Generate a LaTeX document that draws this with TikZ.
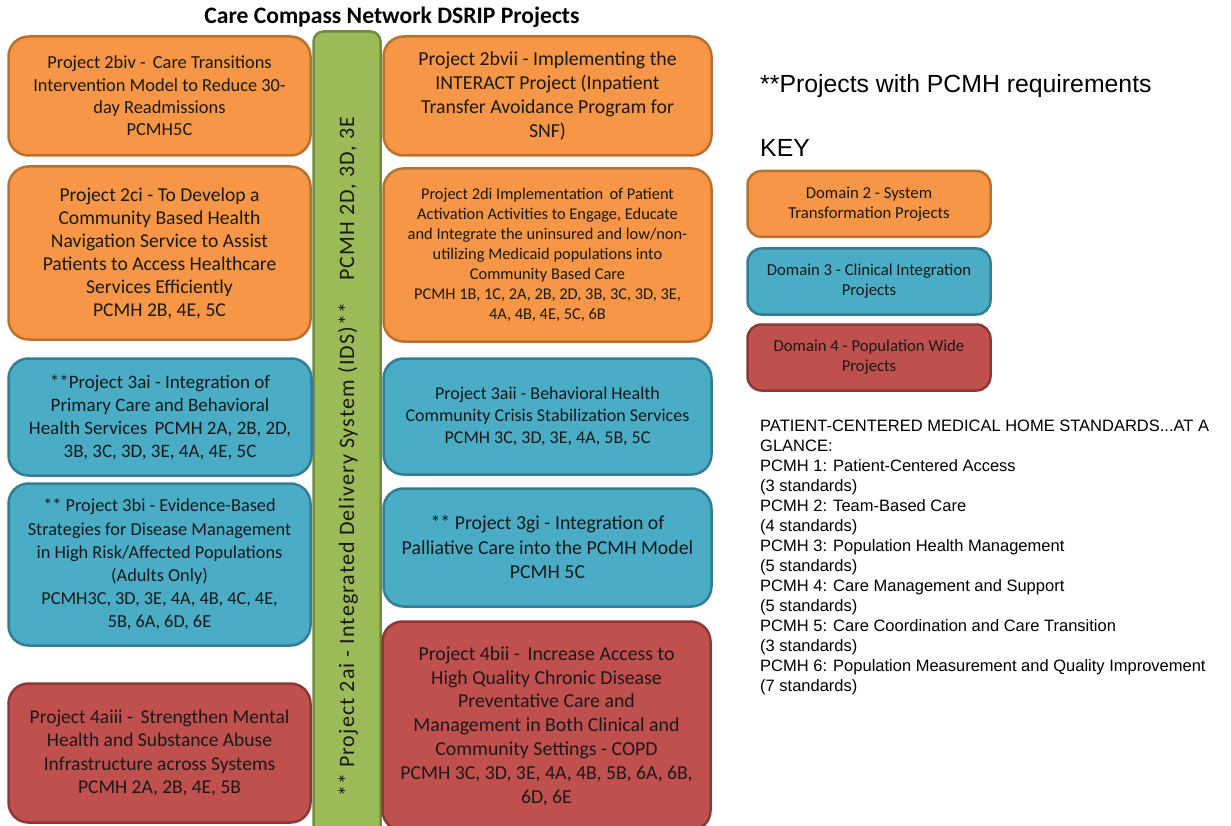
\documentclass[tikz,border=0pt]{standalone}
\usepackage{fontspec}
\setmainfont{Carlito}
\newfontfamily\arial{Liberation Sans}
\newfontfamily\spaced[LetterSpace=5]{Carlito}
\definecolor{orFill}{HTML}{F79646}
\definecolor{orDraw}{HTML}{B8722F}
\definecolor{blFill}{HTML}{4BACC6}
\definecolor{blDraw}{HTML}{327E93}
\definecolor{rdFill}{HTML}{C0504D}
\definecolor{rdDraw}{HTML}{8C3836}
\definecolor{grFill}{HTML}{9BBB59}
\definecolor{grDraw}{HTML}{728A40}
\definecolor{txt}{HTML}{1A1A1A}
\begin{document}
\begin{tikzpicture}[x=1pt,y=-1pt,
  box/.style={rounded corners=20pt, line width=2.5pt, align=center, inner sep=0pt,
    text=txt, font=\fontsize{18}{22.5}\selectfont},
  ob/.style={box, fill=orFill, draw=orDraw},
  bb/.style={box, fill=blFill, draw=blDraw},
  rb/.style={box, fill=rdFill, draw=rdDraw},
  keybox/.style={rounded corners=14pt, line width=2.5pt, align=center, inner sep=0pt,
    text=txt, font=\fontsize{16.7}{20}\selectfont, minimum width=243pt, minimum height=66pt},
  side/.style={inner sep=0pt, text=black, font=\arial\fontsize{24.8}{28}\selectfont},
]
\useasboundingbox (0,0) rectangle (1231,826);

\node[font=\bfseries\fontsize{23.6}{27}\selectfont, inner sep=0pt] (title) at (392,17) {Care Compass Network DSRIP Projects};

% green bar
\node[rounded corners=10pt, line width=2.5pt, fill=grFill, draw=grDraw, minimum width=67pt, minimum height=847pt, inner sep=0pt] (idsbar) at (347,455) {};
\node[rotate=90, inner sep=0pt, text=txt, font=\spaced\fontsize{22}{26}\selectfont] (ids) at (348,457)
  {** Project 2ai - Integrated Delivery System (IDS)**\quad PCMH 2D, 3D, 3E};

% left column
\node[ob, minimum width=302pt, minimum height=119pt, font=\fontsize{18.4}{22.4}\selectfont] (p2biv) at (159.5,96)
  {Project 2biv -\, Care Transitions\\Intervention Model to Reduce 30-\\day Readmissions\\PCMH5C};
\node[ob, minimum width=302pt, minimum height=173pt, font=\fontsize{19.6}{23}\selectfont] (p2ci) at (159.5,253)
  {Project 2ci - To Develop a\\Community Based Health\\Navigation Service to Assist\\Patients to Access Healthcare\\Services Efficiently\\PCMH 2B, 4E, 5C};
\node[bb, minimum width=303pt, minimum height=117pt, font=\fontsize{19}{23}\selectfont] (p3ai) at (160,417)
  {**Project 3ai - Integration of\\Primary Care and Behavioral\\Health Services\, PCMH 2A, 2B, 2D,\\3B, 3C, 3D, 3E, 4A, 4E, 5C};
\node[bb, minimum width=302pt, minimum height=162pt, font=\fontsize{18.3}{23.2}\selectfont] (p3bi) at (159.5,564.5)
  {** Project 3bi - Evidence-Based\\Strategies for Disease Management\\in High Risk/Affected Populations\\(Adults Only)\\PCMH3C, 3D, 3E, 4A, 4B, 4C, 4E,\\5B, 6A, 6D, 6E};
\node[rb, minimum width=302pt, minimum height=139pt, font=\fontsize{19.5}{23.3}\selectfont] (p4aiii) at (159.5,753)
  {Project 4aiii -\, Strengthen Mental\\Health and Substance Abuse\\Infrastructure across Systems\\PCMH 2A, 2B, 4E, 5B};

% right column
\node[ob, minimum width=328pt, minimum height=119pt, font=\fontsize{19.8}{23.7}\selectfont] (p2bvii) at (547.5,96)
  {Project 2bvii - Implementing the\\INTERACT Project (Inpatient\\Transfer Avoidance Program for\\SNF)};
\node[ob, minimum width=328pt, minimum height=173pt, font=\fontsize{16.4}{19.9}\selectfont] (p2di) at (547.5,255)
  {Project 2di Implementation\, of Patient\\Activation Activities to Engage, Educate\\and Integrate the uninsured and low/non-\\utilizing Medicaid populations into\\Community Based Care\\PCMH 1B, 1C, 2A, 2B, 2D, 3B, 3C, 3D, 3E,\\4A, 4B, 4E, 5C, 6B};
\node[bb, minimum width=328pt, minimum height=116pt, font=\fontsize{18}{22}\selectfont] (p3aii) at (547.5,416.5)
  {Project 3aii - Behavioral Health\\Community Crisis Stabilization Services\\PCMH 3C, 3D, 3E, 4A, 5B, 5C};
\node[bb, minimum width=328pt, minimum height=118pt, font=\fontsize{19.8}{24.5}\selectfont] (p3gi) at (547.5,547.5)
  {** Project 3gi - Integration of\\Palliative Care into the PCMH Model\\PCMH 5C};
\node[rb, minimum width=328pt, minimum height=209pt, font=\fontsize{19.8}{23.8}\selectfont] (p4bii) at (546.5,726)
  {Project 4bii -\, Increase Access to\\High Quality Chronic Disease\\Preventative Care and\\Management in Both Clinical and\\Community Settings - COPD\\PCMH 3C, 3D, 3E, 4A, 4B, 5B, 6A, 6B,\\6D, 6E};

% key
\node[side, anchor=base west] (pcmhnote) at (760,93) {**Projects with PCMH requirements};
\node[side, anchor=base west] (keytitle) at (760,157) {KEY};
\node[keybox, fill=orFill, draw=orDraw] (k2) at (869,204) {Domain 2 - System\\Transformation Projects};
\node[keybox, fill=blFill, draw=blDraw] (k3) at (869,281.5) {Domain 3 - Clinical Integration\\Projects};
\node[keybox, fill=rdFill, draw=rdDraw] (k4) at (869,357.5) {Domain 4 - Population Wide\\Projects};

% standards list
\node[anchor=north west, align=left, inner sep=0pt, text=black, font=\arial\fontsize{16.5}{20}\selectfont] (standards) at (760,420)
  {PATIENT-CENTERED MEDICAL HOME STANDARDS...AT A\\GLANCE:\\PCMH 1: Patient-Centered Access\\(3 standards)\\PCMH 2: Team-Based Care\\(4 standards)\\PCMH 3: Population Health Management\\(5 standards)\\PCMH 4: Care Management and Support\\(5 standards)\\PCMH 5: Care Coordination and Care Transition\\(3 standards)\\PCMH 6: Population Measurement and Quality Improvement\\(7 standards)};
\end{tikzpicture}
\end{document}
